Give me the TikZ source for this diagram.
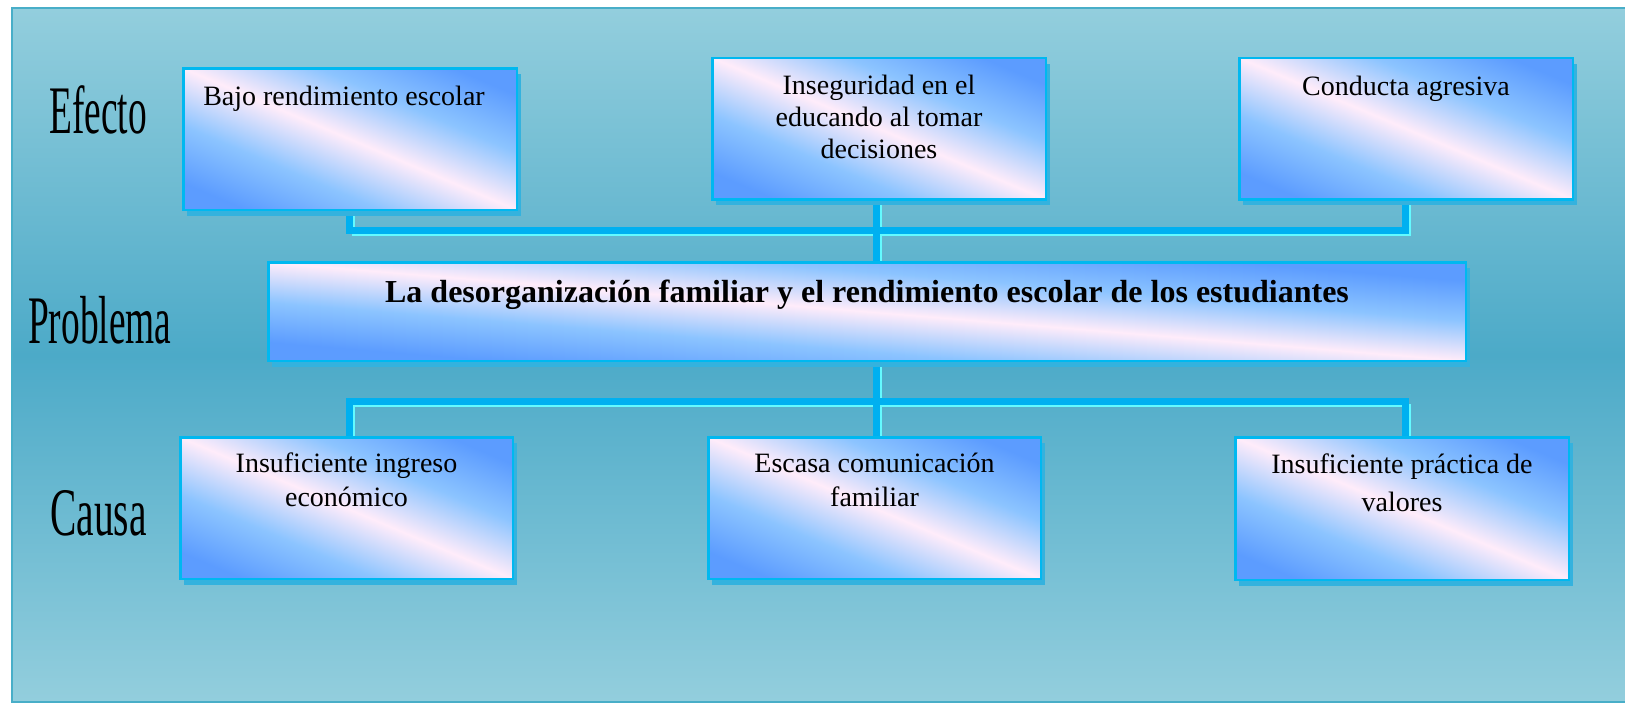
\documentclass[tikz,border=0pt]{standalone}
\usepackage{fontspec}
\setmainfont{Liberation Serif}
\usetikzlibrary{shadows}
\definecolor{bgL}{RGB}{147,206,221}
\definecolor{bgD}{RGB}{76,170,200}
\definecolor{bgB}{RGB}{72,174,200}
\definecolor{bA}{RGB}{92,156,255}
\definecolor{bB}{RGB}{140,196,255}
\definecolor{pk}{RGB}{255,236,250}
\definecolor{bord}{RGB}{0,184,240}
\definecolor{shd}{RGB}{52,178,222}
\definecolor{lineB}{RGB}{0,176,240}
\definecolor{lineC}{RGB}{100,250,255}
\pgfdeclarehorizontalshading{boxshade}{100bp}{color(0bp)=(bA); color(10bp)=(bA); color(30bp)=(bB); color(50bp)=(pk); color(70bp)=(bB); color(90bp)=(bA); color(100bp)=(bA)}
\begin{document}
\begin{tikzpicture}[x=1pt,y=-1pt,
  geo/.style={inner sep=0pt, outer sep=0pt, line width=2.5pt},
  wsize/.style={geo, minimum width=333.5pt, minimum height=141.5pt},
  psize/.style={geo, minimum width=1197.5pt, minimum height=98.5pt},
  look/.style 2 args={draw=bord,
    drop shadow={shadow xshift=4pt, shadow yshift=-6pt, fill=shd, opacity=1},
    path picture={\pgfmathsetmacro\shA{#1/99}\pgfmathsetmacro\shB{#2/99}%
      \pgflowlevelobj{\pgftransformshift{\pgfpointanchor{path picture bounding box}{center}}%
        \pgftransformcm{\shA}{\shB}{-\shA}{\shB}{\pgfpointorigin}}{\pgfuseshading{boxshade}}}},
  btxt/.style={anchor=base, inner sep=0pt, align=center, font=\fontsize{28}{32}\selectfont},
  big/.style={anchor=base west, inner sep=0pt, font=\fontsize{68}{68}\selectfont},
  connB/.style={draw=lineB, line width=7pt},
  connC/.style={draw=lineC, line width=2.7pt, transform canvas={shift={(4.8,4.8)}}}]
\fill[white] (0,0) rectangle (1625,705);
\useasboundingbox (0,0) rectangle (1625,705);
\shade[top color=bgL, bottom color=bgL, middle color=bgD] (12,8) rectangle (1640,702);
\draw[bgB, line width=2pt] (1640,8) -- (12,8) -- (12,702) -- (1640,702);

% box positions
\path
  (350,139) node[wsize] (B1) {}
  (879,128.5) node[wsize] (B2) {}
  (1406,128.5) node[wsize] (B3) {}
  (867,311.5) node[psize] (P) {}
  (346.5,508) node[wsize, minimum width=332.5pt] (C1) {}
  (874.5,508) node[wsize, minimum width=332.5pt] (C2) {}
  (1402,508.5) node[wsize, minimum height=142.5pt] (C3) {};

\coordinate (tl) at (349,230);
\coordinate (tm) at (876,230);
\coordinate (tr) at (1405,230);
\coordinate (bl) at (349,401);
\coordinate (bm) at (876,401);
\coordinate (br) at (1405,401);

% connectors: highlight then main line
\foreach \s in {connC, connB}{
  \draw[\s] (tl |- B1.south) -- (tl) -- (tr) -- (tr |- B3.south);
  \draw[\s] (tm |- B2.south) -- (tm |- P.north);
  \draw[\s] (bm |- P.south) -- (bm |- C2.north);
  \draw[\s] (bl |- C1.north) -- (bl) -- (br) -- (br |- C3.north);
}

% visible boxes
\node[wsize, look={333.5}{141.5}] (vB1) at (B1) {};
\node[wsize, look={333.5}{141.5}] (vB2) at (B2) {};
\node[wsize, look={333.5}{141.5}] (vB3) at (B3) {};
\node[psize, look={1197.5}{98.5}] (vP) at (P) {};
\node[wsize, look={332.5}{141.5}, minimum width=332.5pt] (vC1) at (C1) {};
\node[wsize, look={332.5}{141.5}, minimum width=332.5pt] (vC2) at (C2) {};
\node[wsize, look={333.5}{142.5}, minimum height=142.5pt] (vC3) at (C3) {};

% texts
\node[btxt] (xB1) at (344,105) {Bajo rendimiento escolar};
\node[btxt] (xB2) at (879,158.3) {Inseguridad en el\\educando al tomar\\decisiones};
\node[btxt] (xB3) at (1406,95.5) {Conducta agresiva};
\node[btxt, font=\fontsize{32}{36}\selectfont\bfseries] (xP) at (867,302.6) {La desorganización familiar y el rendimiento escolar de los estudiantes};
\node[btxt, font=\fontsize{28}{34}\selectfont] (xC1) at (346.5,506.6) {Insuficiente ingreso\\económico};
\node[btxt, font=\fontsize{28}{34}\selectfont] (xC2) at (874.5,506.6) {Escasa comunicación\\familiar};
\node[btxt, font=\fontsize{28}{38}\selectfont] (xC3) at (1402,511.5) {Insuficiente práctica de\\valores};

% row labels
\node[big] (lE) at (49,133) {\scalebox{0.55}[1]{Efecto}};
\node[big] (lP) at (28,343) {\scalebox{0.55}[1]{Problema}};
\node[big] (lC) at (50,535) {\scalebox{0.58}[1]{Causa}};
\end{tikzpicture}
\end{document}
